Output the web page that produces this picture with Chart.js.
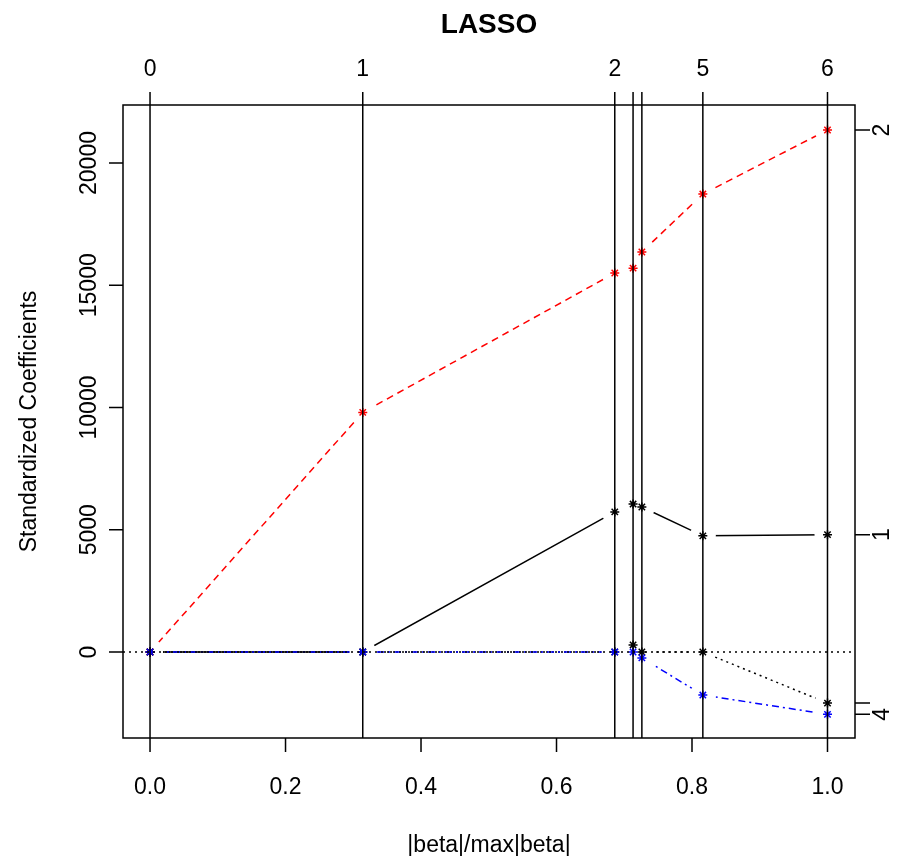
<!DOCTYPE html>
<html>
<head>
<meta charset="utf-8">
<script src="https://cdn.jsdelivr.net/npm/chart.js@4.4.1/dist/chart.umd.min.js"></script>
<style>
  html, body { margin: 0; padding: 0; background: #fff; }
  #wrap { width: 914px; height: 856px; }
</style>
</head>
<body>
<div id="wrap"><canvas id="lasso" width="914" height="856"></canvas></div>
<script>
// lars path
const steps = [0, 0.314, 0.686, 0.713, 0.726, 0.816, 1.0];
const stepLabels = ["0", "1", "2", "3", "4", "5", "6"];
const coef1 = [0, 0, 5730, 6050, 5930, 4750, 4800];
const coef2 = [0, 9800, 15500, 15700, 16360, 18730, 21350];
const coef3 = [0, 0, 0, 290, 0, 0, -2090];
const coef4 = [0, 0, 0, 0, -240, -1760, -2550];
const varNames = ["1", "2", "3", "4"];
const xTicks = [0, 0.2, 0.4, 0.6, 0.8, 1.0];
const yTicks = [0, 5000, 10000, 15000, 20000];

const FONT = "23px 'Liberation Sans', Arial, sans-serif";
const series = [
  { data: coef1, color: "#000000", dash: [] },
  { data: coef2, color: "#ff0000", dash: [7, 5] },
  { data: coef3, color: "#000000", dash: [2, 4] },
  { data: coef4, color: "#0000ff", dash: [2, 4, 7, 4] }
];
const pts = arr => steps.map((s, i) => ({ x: s, y: arr[i] }));

// chart.js paints higher "order" first: keep matplot's column order (1 first, 4 last)
const datasets = [];
series.forEach((s, i) => {
  datasets.push({
    data: pts(s.data), borderColor: s.color, borderDash: s.dash, borderWidth: 1.5,
    pointRadius: 0, tension: 0, fill: false, order: 20 - i
  });
});
series.forEach((s, i) => {
  datasets.push({
    data: pts(s.data), borderColor: s.color, showLine: false, isPts: true,
    pointStyle: "star", pointRadius: 4.5, pointBorderWidth: 1.5, order: 10 - i
  });
});

function vtext(ctx, txt, x, y) {
  ctx.save();
  ctx.translate(x, y);
  ctx.rotate(-Math.PI / 2);
  ctx.textAlign = "center";
  ctx.textBaseline = "alphabetic";
  ctx.fillText(txt, 0, 0);
  ctx.restore();
}

// R style: skip a label if it would crowd the last one drawn
function axisLabels(ctx, pos, labels, draw) {
  const gap = ctx.measureText("m").width;
  let last = null;
  pos.forEach((p, i) => {
    const w = ctx.measureText(labels[i]).width;
    if (last && Math.abs(p - last.p) < last.w / 2 + w / 2 + gap) return;
    draw(labels[i], p);
    last = { p: p, w: w };
  });
}

const rPlot = {
  id: "rPlot",
  beforeDatasetsDraw(chart) { chart.$masked = false; },
  beforeDatasetDraw(chart, args) {
    // type="b": leave a gap in the lines round every point
    if (chart.$masked || !chart.data.datasets[args.index].isPts) return;
    chart.$masked = true;
    const ctx = chart.ctx, a = chart.chartArea;
    ctx.save();
    ctx.beginPath();
    ctx.rect(a.left, a.top, a.right - a.left, a.bottom - a.top);
    ctx.clip();
    ctx.fillStyle = "#fff";
    chart.data.datasets.forEach((d, i) => {
      if (!d.isPts) return;
      chart.getDatasetMeta(i).data.forEach(el => {
        ctx.beginPath();
        ctx.arc(el.x, el.y, 13, 0, Math.PI * 2);
        ctx.fill();
      });
    });
    ctx.restore();
  },
  afterDatasetsDraw(chart) {
    const ctx = chart.ctx, a = chart.chartArea;
    const xs = chart.scales.x, ys = chart.scales.y;
    ctx.save();
    ctx.strokeStyle = "#000";
    ctx.lineWidth = 1.5;

    // zero line
    const y0 = ys.getPixelForValue(0);
    ctx.setLineDash([2, 4]);
    ctx.beginPath();
    ctx.moveTo(a.left, y0);
    ctx.lineTo(a.right, y0);
    ctx.stroke();
    ctx.setLineDash([]);

    // step lines
    steps.forEach(s => {
      const x = xs.getPixelForValue(s);
      ctx.beginPath();
      ctx.moveTo(x, a.top);
      ctx.lineTo(x, a.bottom);
      ctx.stroke();
    });

    ctx.strokeRect(a.left, a.top, a.right - a.left, a.bottom - a.top);

    // ticks
    ctx.beginPath();
    xTicks.forEach(v => {
      const x = xs.getPixelForValue(v);
      ctx.moveTo(x, a.bottom); ctx.lineTo(x, a.bottom + 14);
    });
    yTicks.forEach(v => {
      const y = ys.getPixelForValue(v);
      ctx.moveTo(a.left, y); ctx.lineTo(a.left - 14, y);
    });
    steps.forEach(s => {
      const x = xs.getPixelForValue(s);
      ctx.moveTo(x, a.top); ctx.lineTo(x, a.top - 13);
    });
    const finals = series.map(s => s.data[s.data.length - 1]);
    finals.forEach(v => {
      const y = ys.getPixelForValue(v);
      ctx.moveTo(a.right, y); ctx.lineTo(a.right + 15, y);
    });
    ctx.stroke();

    // labels
    ctx.fillStyle = "#000";
    ctx.font = FONT;
    ctx.textAlign = "center";
    ctx.textBaseline = "alphabetic";
    xTicks.forEach(v => ctx.fillText(v.toFixed(1), xs.getPixelForValue(v), 794));
    yTicks.forEach(v => vtext(ctx, String(v), 96, ys.getPixelForValue(v)));

    axisLabels(ctx, steps.map(s => xs.getPixelForValue(s)), stepLabels,
      (t, p) => ctx.fillText(t, p, 76));

    const order = finals.map((v, i) => i).sort((i, j) => finals[i] - finals[j]);
    axisLabels(ctx, order.map(i => ys.getPixelForValue(finals[i])), order.map(i => varNames[i]),
      (t, p) => vtext(ctx, t, 889, p));

    const cx = (a.left + a.right) / 2, cy = (a.top + a.bottom) / 2;
    ctx.fillText("|beta|/max|beta|", cx, 852);
    vtext(ctx, "Standardized Coefficients", 36, cy);

    ctx.font = "bold 28px 'Liberation Sans', Arial, sans-serif";
    ctx.fillText("LASSO", cx, 33);
    ctx.restore();
  }
};

new Chart(document.getElementById("lasso"), {
  type: "line",
  data: { datasets: datasets },
  options: {
    responsive: false,
    animation: false,
    devicePixelRatio: 1,
    layout: { padding: { left: 123, right: 59, top: 105, bottom: 118 } },
    plugins: { legend: { display: false }, title: { display: false }, tooltip: { enabled: false } },
    scales: {
      x: { type: "linear", min: -0.0399, max: 1.0406, display: false },
      y: { type: "linear", min: -3517, max: 22372, display: false }
    }
  },
  plugins: [rPlot]
});
</script>
</body>
</html>
